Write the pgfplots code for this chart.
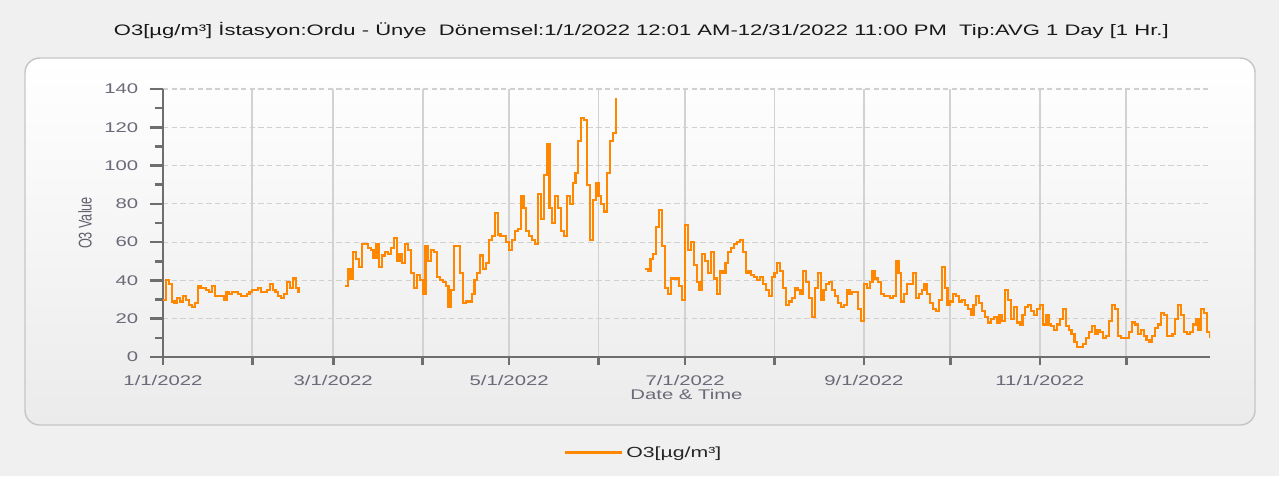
\documentclass[border=0pt]{standalone}
\usepackage{fontspec}
\setmainfont{Liberation Sans}[FakeStretch=1.45]
\newfontfamily\condfont{Liberation Sans}[FakeStretch=0.69]
\usepackage{pgfplots}
\pgfplotsset{compat=1.18}
\usepackage{pgfplotstable}

\definecolor{bggray}{HTML}{F0F0F0}
\definecolor{panelbot}{HTML}{EBEBEB}
\definecolor{panelborder}{HTML}{C6C6C6}
\definecolor{axisgray}{HTML}{6E6E6E}
\definecolor{vgrid}{HTML}{D2D2D2}
\definecolor{hgrid}{HTML}{D0D0D0}
\definecolor{ticklab}{HTML}{6A6A78}
\definecolor{o3orange}{HTML}{FF8800}

% daily O3 means, x = day of year (0 = 1 Jan 2022), nan = no data
\pgfplotstableread{
day o3
0 30
1 40
2 38
3 29
4 28
5 31
6 29
7 32
8 30
9 27
10 26
11 28
12 37
13 36
14 36
15 35
16 34
17 37
18 32
19 32
20 32
21 30
22 34
23 33
24 34
25 34
26 33
27 32
28 32
29 33
30 34
31 35
32 35
33 36
34 34
35 34
36 35
37 38
38 35
39 34
40 32
41 31
42 33
43 39
44 36
45 41
46 36
47 34
47.6 34
48 nan
63 37
64 46
65 41
66 55
67 51
68 47
69 59
70 59
71 57
72 56
73 52
74 59
75 47
76 53
77 55
78 54
79 57
80 62
81 50
82 54
83 49
84 59
85 56
86 44
87 36
88 43
89 40
90 33
91 58
92 50
93 56
94 55
95 42
96 40
97 39
98 37
99 26
100 35
101 58
102 58
103 44
104 28
105 29
106 29
107 33
108 40
109 44
110 53
111 46
112 49
113 61
114 63
115 75
116 64
117 63
118 63
119 60
120 56
121 61
122 66
123 67
124 84
125 78
126 66
127 63
128 61
129 59
130 85
131 72
132 95
133 111
134 78
135 70
136 84
137 78
138 66
139 63
140 84
141 80
142 91
143 96
144 113
145 125
146 124
147 90
148 61
149 82
150 91
151 84
152 80
153 76
154 96
155 113
156 117
157 135
157.3 135
158 nan
167 46
168 45
169 51
170 54
171 68
172 77
173 58
174 36
175 33
176 41
177 41
178 41
179 37
180 30
181 69
182 56
183 60
184 48
185 39
186 35
187 54
188 50
189 44
190 55
191 41
192 33
193 45
194 44
195 49
196 55
197 57
198 59
199 60
200 61
201 55
202 44
203 45
204 43
205 42
206 40
207 42
208 38
209 35
210 32
211 42
212 44
213 49
214 45
215 36
216 27
217 29
218 31
219 36
220 35
221 33
222 45
223 39
224 31
225 21
226 36
227 44
228 30
229 35
230 38
231 39
232 35
233 32
234 28
235 26
236 27
237 35
238 33
239 34
240 34
241 25
242 19
243 38
244 36
245 39
246 45
247 41
248 39
249 33
250 32
251 32
252 31
253 32
254 50
255 44
256 29
257 33
258 38
259 38
260 44
261 31
262 33
263 35
264 38
265 33
266 28
267 25
268 24
269 30
270 47
271 36
272 27
273 29
274 33
275 32
276 29
277 30
278 27
279 25
280 22
281 27
282 32
283 28
284 24
285 21
286 18
287 20
288 21
289 18
290 22
291 19
292 35
293 30
294 20
295 26
296 18
297 17
298 22
299 26
300 27
301 24
302 22
303 25
304 27
305 17
306 22
307 17
308 16
309 14
310 17
311 20
312 25
313 16
314 14
315 12
316 8
317 5
318 5
319 7
320 10
321 13
322 16
323 12
324 14
325 13
326 10
327 11
328 19
329 27
330 25
331 11
332 10
333 10
334 10
335 13
336 18
337 17
338 12
339 14
340 11
341 9
342 8
343 11
344 15
345 17
346 23
347 22
348 11
349 11
350 12
351 20
352 27
353 22
354 13
355 12
356 13
357 17
358 20
359 14
360 25
361 23
362 13
363 10
}\ozone

\begin{document}
\begin{tikzpicture}
\fill[bggray, use as bounding box] (0,0) rectangle (959.25pt,357pt);
\shadedraw[top color=white, bottom color=panelbot, draw=panelborder,
  line width=1.1pt, rounded corners=11pt]
  (18.75pt,38.25pt) rectangle (941.25pt,313.5pt);
\node[text=black!90, font=\fontsize{11.4}{13}\selectfont]
  at (481pt,334.5pt)
  {O3[µg/m³] İstasyon:Ordu - Ünye\ \ Dönemsel:1/1/2022 12:01 AM-12/31/2022 11:00 PM\ \ Tip:AVG 1 Day [1 Hr.]};
\begin{axis}[
    at={(122.25pt,89.25pt)}, anchor=south west,
    scale only axis, width=785.25pt, height=201pt,
    xmin=0, xmax=363, ymin=0, ymax=140,
    axis lines=left,
    axis line style={-, line width=2.2pt, color=axisgray},
    xtick={0,59,120,181,243,304},
    xticklabels={1/1/2022,3/1/2022,5/1/2022,7/1/2022,9/1/2022,11/1/2022},
    minor xtick={0,31,59,90,120,151,181,212,243,273,304,334},
    ytick={0,20,...,140},
    minor ytick={10,30,...,130},
    tick align=outside,
    major tick length=10pt, minor tick length=6pt,
    major x tick style={draw=none},
    minor x tick style={line width=2pt, color=axisgray},
    major y tick style={line width=2pt, color=axisgray},
    minor y tick style={line width=2pt, color=axisgray},
    xminorgrids, ymajorgrids,
    minor x grid style={color=vgrid, line width=1.4pt},
    major y grid style={color=hgrid, line width=0.8pt, dash pattern=on 4pt off 2.5pt},
    /pgf/number format/assume math mode=true,
    tick label style={font=\fontsize{10.5}{12}\selectfont, text=ticklab},
    yticklabel style={xshift=-5pt},
    xticklabel style={yshift=0pt},
    xlabel={Date \& Time}, ylabel={O3 Value},
    xlabel style={at={(axis description cs:0.5,-0.14)}, anchor=center,
      font=\fontsize{10.5}{12}\selectfont, text=ticklab},
    ylabel style={at={(axis description cs:-0.0745,0.5)}, anchor=center,
      font=\condfont\fontsize{13.8}{15}\selectfont, text=ticklab!90!black},
    legend style={at={(0.459,-0.358)}, anchor=center, draw=none, fill=none,
      font=\fontsize{11}{12}\selectfont, text=black!85},
    legend image code/.code={\draw[line width=2.3pt, color=o3orange] (-4pt,0pt) -- (39pt,0pt);},
    unbounded coords=jump,
  ]
\addplot[const plot, color=o3orange, line width=1.6pt] table[x=day, y=o3] {\ozone};
\addlegendentry{O3[µg/m³]}
\end{axis}
\end{tikzpicture}
\end{document}
